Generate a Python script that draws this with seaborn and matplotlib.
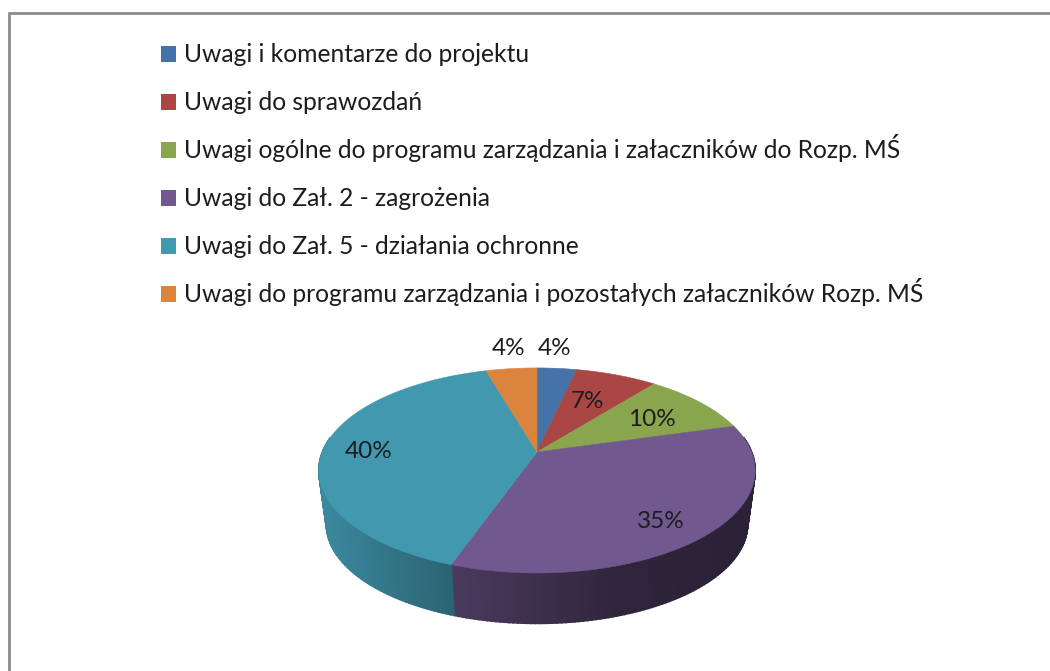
import numpy as np
import matplotlib
matplotlib.use("Agg")
import matplotlib.pyplot as plt
from matplotlib.patches import Patch
from matplotlib.colors import to_rgb
import seaborn as sns

categories = [
    "Uwagi i komentarze do projektu",
    "Uwagi do sprawozdań",
    "Uwagi ogólne do programu zarządzania i załaczników do Rozp. MŚ",
    "Uwagi do Zał. 2 - zagrożenia",
    "Uwagi do Zał. 5 - działania ochronne",
    "Uwagi do programu zarządzania i pozostałych załaczników Rozp. MŚ",
]
shares = [3.5, 7.2, 9.9, 34.8, 40.1, 4.5]
share_labels = ["4%", "7%", "10%", "35%", "40%", "4%"]
colors = ["#4572A7", "#AA4643", "#89A54E", "#71588F", "#4198AF", "#DB843D"]

sns.set_theme(style="white")
plt.rcParams["font.family"] = ["Lato", "DejaVu Sans"]
palette = sns.color_palette(colors)
TEXT = "#1c1c1c"
FONT_PT = 17.7

fig = plt.figure(figsize=(10.5, 6.71), dpi=100, facecolor="white")
ax = fig.add_axes([0, 0, 1, 1])
ax.set_xlim(0, 1050)
ax.set_ylim(671, 0)
ax.axis("off")

# frame: only top and left edges are visible in the crop
ax.plot([8.5, 8.5, 1050], [671, 12.5, 12.5], color="#8c8c8c", lw=2.0,
        solid_joinstyle="miter", zorder=1)

# perspective model of the tilted disc
CX, CY = 537.0, 452.0
K, A, B = 0.18, 99.2, 214.6
DEPTH, SHRINK = 54.0, 0.965


def project(theta, lower=False):
    c, s = np.cos(theta), np.sin(theta)
    den = 1 + K * c
    x, y = B * s / den, -A * c / den
    if lower:
        return CX + SHRINK * x, CY + SHRINK * (y - 18.0) + 18.0 + DEPTH
    return CX + x, CY + y


def side_shade(x):
    return np.interp(x, [317, 450, 620, 755], [0.90, 0.66, 0.42, 0.38])


edges = np.deg2rad(np.cumsum([0.0] + shares) / sum(shares) * 360.0)

# side wall, drawn as thin shaded quads; the strokes overlap to hide the seams
for i, col in enumerate(palette):
    a0, a1 = edges[i], edges[i + 1]
    n = max(2, int(np.degrees(a1 - a0) / 1.0))
    th = np.linspace(a0, a1, n + 1)
    for t0, t1 in zip(th[:-1], th[1:]):
        if np.cos((t0 + t1) / 2) > 0.15:
            continue
        x0, y0 = project(t0)
        x1, y1 = project(t1)
        x2, y2 = project(t1, lower=True)
        x3, y3 = project(t0, lower=True)
        shade = float(side_shade((x0 + x1) / 2))
        c = tuple(np.array(to_rgb(col)) * shade)
        ax.fill([x0, x1, x2, x3], [y0, y1, y2, y3], facecolor=c, edgecolor=c,
                lw=1.2, zorder=2)

# top face
for i, col in enumerate(palette):
    th = np.linspace(edges[i], edges[i + 1], 200)
    xs, ys = project(th)
    ax.fill(np.r_[CX, xs], np.r_[CY, ys], color=col, lw=0.4, zorder=3)

label_xy = [(555, 348.5), (588, 401.5), (652, 419.5), (661, 522), (369, 451), (509, 348.5)]
for txt, (lx, ly) in zip(share_labels, label_xy):
    ax.text(lx, ly, txt, ha="center", va="center", fontsize=17.5, color=TEXT, zorder=4)

# one single-entry legend per row, so that tall glyphs cannot disturb the even row pitch
row_baselines = [60, 108, 156, 204, 252, 300]
for name, col, base in zip(categories, palette, row_baselines):
    leg = ax.legend(
        [Patch(facecolor=col, edgecolor="none")], [name], loc="lower left",
        bbox_to_anchor=(161 / 1050, 1 - (base + 6.4) / 671),
        bbox_transform=fig.transFigure,
        frameon=False, fontsize=FONT_PT, labelcolor=TEXT,
        handlelength=0.62, handleheight=0.62,
        handletextpad=0.30, borderpad=0, borderaxespad=0,
    )
    ax.add_artist(leg)
ax.legend_ = None  # the rows are already added; avoid drawing the last one twice

fig.savefig("out.png", dpi=100, facecolor="white")
